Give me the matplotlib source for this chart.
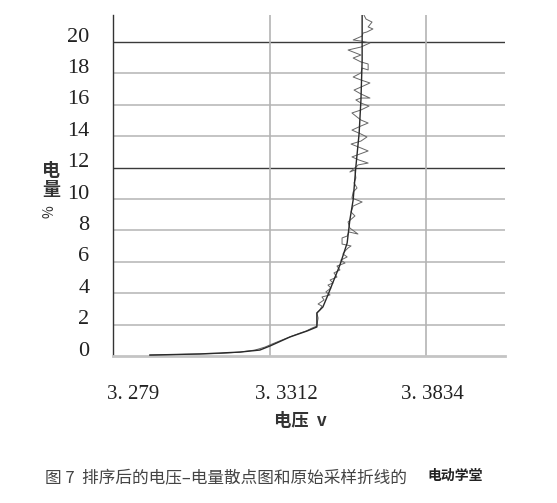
import matplotlib
matplotlib.use("Agg")
import matplotlib.pyplot as plt
from matplotlib.transforms import ScaledTranslation

plt.rcParams['font.family'] = ['Noto Sans CJK SC', 'DejaVu Sans']

# ---- data ----
x_ticks = [3.279, 3.3312, 3.3834]
x_tick_labels = ["3. 279", "3. 3312", "3. 3834"]
y_ticks = [0, 2, 4, 6, 8, 10, 12, 14, 16, 18, 20]
y_tick_labels = [str(t) for t in y_ticks]

# sorted voltage-charge curve
sorted_v = [3.2913, 3.3080, 3.3214, 3.3280, 3.3314, 3.3380, 3.3437, 3.3470, 3.3470,
            3.3490, 3.3507, 3.3524, 3.3547, 3.3571, 3.3580, 3.3591, 3.3600, 3.3611,
            3.3617, 3.3621, 3.3621]
sorted_q = [0.06, 0.13, 0.25, 0.38, 0.64, 1.21, 1.59, 1.85, 2.74,
            3.12, 3.89, 4.71, 5.80, 7.20, 8.66, 9.94, 12.04, 14.20,
            16.31, 18.85, 21.72]

# raw sampling polyline
raw_v = [3.2913, 3.3013, 3.3080, 3.3147, 3.3214, 3.3264, 3.3297, 3.3320, 3.3354, 3.3387,
         3.3414, 3.3434, 3.3454, 3.3470, 3.3474, 3.3470, 3.3480, 3.3487, 3.3474, 3.3494,
         3.3487, 3.3514, 3.3500, 3.3517, 3.3507, 3.3524, 3.3514, 3.3537, 3.3527, 3.3547,
         3.3537, 3.3564, 3.3550, 3.3571, 3.3557, 3.3567, 3.3574, 3.3584, 3.3554, 3.3554,
         3.3571, 3.3577, 3.3607, 3.3580, 3.3574, 3.3597, 3.3584, 3.3591, 3.3621, 3.3587,
         3.3591, 3.3604, 3.3594, 3.3600, 3.3597, 3.3580, 3.3604, 3.3607, 3.3641, 3.3611,
         3.3587, 3.3614, 3.3641, 3.3617, 3.3584, 3.3617, 3.3637, 3.3617, 3.3587, 3.3617,
         3.3641, 3.3617, 3.3604, 3.3587, 3.3617, 3.3644, 3.3617, 3.3600, 3.3617, 3.3647,
         3.3617, 3.3594, 3.3617, 3.3647, 3.3617, 3.3591, 3.3617, 3.3621, 3.3641, 3.3641,
         3.3617, 3.3591, 3.3617, 3.3574, 3.3617, 3.3647, 3.3617, 3.3591, 3.3621, 3.3624,
         3.3637, 3.3657, 3.3641, 3.3654, 3.3634, 3.3627]
raw_q = [0.06, 0.10, 0.13, 0.16, 0.25, 0.38, 0.57, 0.76, 1.02, 1.27,
         1.46, 1.59, 1.78, 1.91, 2.42, 2.74, 2.93, 3.18, 3.31, 3.57,
         3.76, 3.89, 4.08, 4.33, 4.52, 4.65, 4.84, 5.03, 5.29, 5.48,
         5.73, 5.92, 6.11, 6.31, 6.50, 6.75, 6.88, 7.01, 7.13, 7.52,
         7.64, 7.90, 7.77, 8.15, 8.54, 8.92, 9.17, 9.55, 9.81, 10.06,
         10.45, 10.70, 11.02, 11.34, 11.85, 11.72, 12.10, 12.17, 12.29, 12.48,
         12.68, 12.87, 13.06, 13.25, 13.50, 13.69, 13.95, 14.14, 14.39, 14.65,
         14.84, 15.03, 15.22, 15.48, 15.67, 15.92, 16.11, 16.31, 16.43, 16.43,
         16.69, 16.94, 17.13, 17.39, 17.58, 17.77, 18.03, 18.34, 18.22, 18.60,
         18.73, 18.98, 19.17, 19.49, 19.68, 19.94, 20.06, 20.13, 20.38, 20.57,
         20.64, 20.83, 20.96, 21.27, 21.46, 21.72]

# ---- figure ----
fig = plt.figure(figsize=(5.57, 5.03), dpi=100)
ax = fig.add_axes([113/557, 1-356/503, (505-113)/557, (356-15)/503])
ax.set_xlim(3.279, 3.40975)
ax.set_ylim(0, 21.72)

# grid lines
for t in y_ticks[1:]:
    if t in (12, 20):
        ax.axhline(t, color='#3a3a3a', lw=1.0, zorder=1)
    else:
        ax.axhline(t, color='#c4c4c4', lw=1.4, zorder=1)
for t in x_ticks[1:]:
    ax.axvline(t, color='#b4b4b4', lw=1.2, zorder=1)

ax.plot(raw_v, raw_q, color='#666666', lw=0.7, zorder=3)
ax.plot(sorted_v, sorted_q, color='#2a2a2a', lw=1.0, zorder=4)

for s in ('top', 'right'):
    ax.spines[s].set_visible(False)
ax.spines['left'].set_color('#333333')
ax.spines['left'].set_linewidth(1.0)
ax.spines['bottom'].set_color('#c4c4c4')
ax.spines['bottom'].set_linewidth(2.0)

ax.set_xticks(x_ticks)
ax.set_xticklabels(x_tick_labels, family='Liberation Serif', fontsize=15, color='#222222')
ax.set_yticks(y_ticks)
ax.set_yticklabels(y_tick_labels, family='Liberation Serif', fontsize=16, color='#222222')
ax.tick_params(axis='x', length=0, pad=21)
ax.tick_params(axis='y', length=0, pad=17)

x_offsets = [20, 17, 6]
for lab, dx in zip(ax.get_xticklabels(), x_offsets):
    lab.set_transform(lab.get_transform() + ScaledTranslation(dx/100, 0, fig.dpi_scale_trans))
for lab in ax.get_yticklabels():
    lab.set_transform(lab.get_transform() + ScaledTranslation(0, 7.5/100, fig.dpi_scale_trans))

# y label stacked
fig.text(51/557, 1-171/503, "电", ha='center', va='center', fontsize=13, fontweight='bold', color='#333333')
fig.text(51/557, 1-190/503, "量", ha='center', va='center', fontsize=13, fontweight='bold', color='#333333')
fig.text(50/557, 1-212/503, "%", ha='center', va='center', fontsize=10, rotation=90, color='#333333')

# x label
fig.text(300/557, 1-421/503, "电压  v", ha='center', va='center', fontsize=12.5, fontweight='bold', color='#333333')

# caption
fig.text(45/557, 1-479/503, "图 7  排序后的电压–电量散点图和原始采样折线的", ha='left', va='center',
         fontsize=12, color='#444444')
fig.text(427/557, 1-476/503, "电动学堂", ha='left', va='center', fontsize=10, fontweight='bold', color='#222222')

fig.savefig("out.png", dpi=100)
